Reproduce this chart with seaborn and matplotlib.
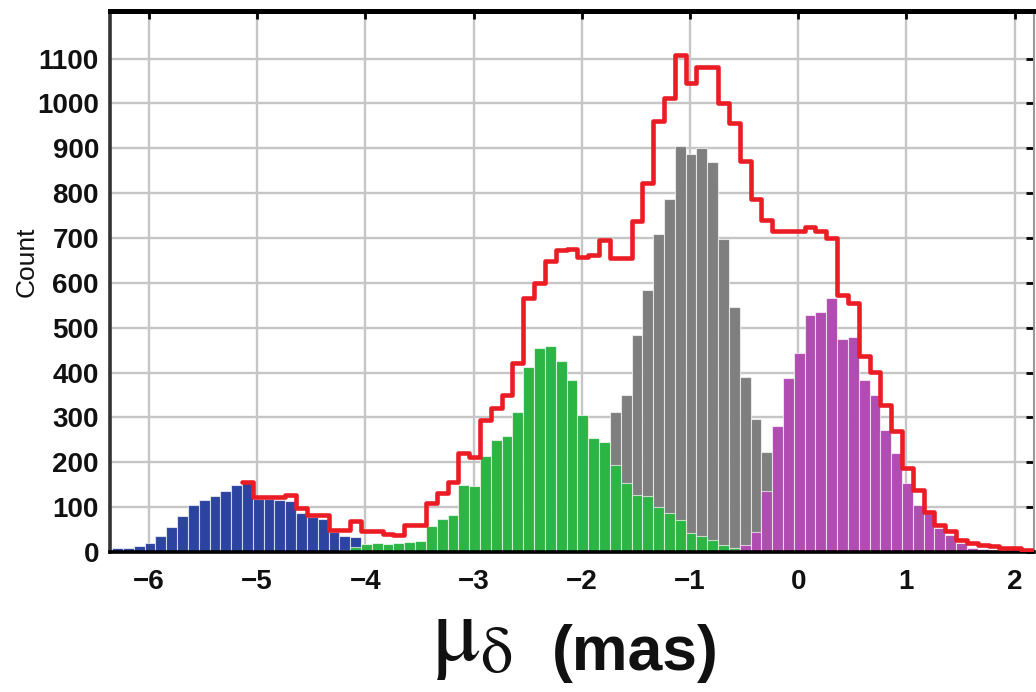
import numpy as np
import pandas as pd
import matplotlib
matplotlib.use("Agg")
import matplotlib.pyplot as plt
import seaborn as sns

# ---------------- data (counts per 0.1 mas bin) ----------------
bin_start = -6.34
bin_width = 0.1
n_bins = 85

x_ticks = [-6, -5, -4, -3, -2, -1, 0, 1, 2]
y_ticks = [0, 100, 200, 300, 400, 500, 600, 700, 800, 900, 1000, 1100]

blue_counts = [8, 8, 14, 20, 35, 55, 80, 105, 115, 125,
               135, 150, 157, 118, 118, 116, 114, 88, 78, 74,
               45, 36, 34, 0, 0, 0, 0, 0, 0, 0,
               0, 0, 0, 0, 0, 0, 0, 0, 0, 0,
               0, 0, 0, 0, 0, 0, 0, 0, 0, 0,
               0, 0, 0, 0, 0, 0, 0, 0, 0, 0,
               0, 0, 0, 0, 0, 0, 0, 0, 0, 0,
               0, 0, 0, 0, 0, 0, 0, 0, 0, 0,
               0, 0, 0, 12, 0]

green_counts = [0, 0, 0, 0, 0, 0, 0, 0, 0, 0,
                0, 0, 0, 0, 0, 0, 0, 0, 0, 0,
                0, 5, 12, 18, 20, 17, 20, 22, 25, 58,
                73, 83, 150, 147, 213, 250, 259, 311, 413, 454,
                459, 425, 384, 306, 254, 246, 194, 153, 127, 124,
                101, 87, 72, 42, 35, 27, 16, 10, 6, 3,
                0, 0, 0, 0, 0, 0, 0, 0, 0, 0,
                0, 0, 0, 0, 0, 0, 0, 0, 0, 0,
                0, 0, 0, 0, 0]

gray_counts = [0, 0, 0, 0, 0, 0, 0, 0, 0, 0,
               0, 0, 0, 0, 0, 0, 0, 0, 0, 0,
               0, 0, 0, 0, 0, 0, 0, 0, 0, 0,
               0, 0, 0, 0, 0, 0, 0, 0, 0, 0,
               5, 12, 25, 60, 120, 200, 311, 350, 484, 584,
               710, 786, 906, 888, 901, 870, 697, 547, 391, 296,
               224, 150, 80, 30, 10, 0, 0, 0, 0, 0,
               0, 0, 0, 0, 0, 0, 0, 0, 0, 0,
               0, 0, 0, 0, 0]

magenta_counts = [0, 0, 0, 0, 0, 0, 0, 0, 0, 0,
                  0, 0, 0, 0, 0, 0, 0, 0, 0, 0,
                  0, 0, 0, 0, 0, 0, 0, 0, 0, 0,
                  0, 0, 0, 0, 0, 0, 0, 0, 0, 0,
                  0, 0, 0, 0, 0, 0, 0, 0, 0, 0,
                  0, 0, 0, 0, 0, 0, 2, 5, 15, 45,
                  135, 280, 387, 443, 529, 534, 566, 474, 480, 384,
                  350, 272, 220, 153, 105, 87, 53, 38, 20, 10,
                  7, 5, 3, 2, 1]

nan = float("nan")
total_counts = [nan, nan, nan, nan, nan, nan, nan, nan, nan, nan,
                nan, nan, 157, 122, 122, 122, 127, 98, 83, 83,
                49, 49, 68, 46, 46, 40, 38, 61, 61, 109,
                131, 155, 220, 211, 295, 321, 350, 421, 566, 599,
                649, 673, 675, 658, 662, 696, 655, 655, 737, 822,
                960, 1011, 1108, 1045, 1081, 1082, 1000, 956, 871, 788,
                740, 716, 715, 715, 725, 716, 700, 573, 555, 436,
                402, 328, 269, 187, 139, 90, 61, 46, 27, 20,
                16, 14, 9, 10, 5]

# ---------------- figure ----------------
edges = bin_start + bin_width * np.arange(n_bins + 1)
centers = edges[:-1] + bin_width / 2

sns.set_theme(style="white")
plt.rcParams["font.family"] = ["Liberation Sans", "DejaVu Sans"]
plt.rcParams["mathtext.fontset"] = "stix"

W, H = 1036, 692
fig = plt.figure(figsize=(W / 100, H / 100), dpi=100)
ax = fig.add_axes([110 / W, 1 - 552 / H, (1034 - 110) / W, (552 - 11) / H])
ax.set_axisbelow(True)
ax.grid(True, color="#c6c6c6", linewidth=1.7)


def draw_bars(counts, color, z):
    v = np.asarray(counts, float)
    m = v > 0
    df = pd.DataFrame({"mu": centers[m], "n": v[m]})
    sns.histplot(data=df, x="mu", weights="n", bins=list(edges), color=color,
                 alpha=1, edgecolor=(1, 1, 1, 0.65), linewidth=0.8, ax=ax,
                 zorder=z)


draw_bars(blue_counts, "#2c43a0", 2)
draw_bars(gray_counts, "#7f7f7f", 2.1)
draw_bars(green_counts, "#2cb444", 2.2)
draw_bars(magenta_counts, "#b04cb2", 2.3)

for p in list(ax.patches):
    if p.get_height() == 0:
        p.remove()

tot = np.asarray(total_counts, float)
mt = ~np.isnan(tot)
idx = np.where(mt)[0]
dft = pd.DataFrame({"mu": centers[mt], "n": tot[mt]})
sns.histplot(data=dft, x="mu", weights="n", bins=list(edges[idx[0]:idx[-1] + 2]),
             element="step", fill=False, color="#ec1c24", linewidth=3.3,
             ax=ax, zorder=5)

ax.set_xlim(-6.36, 2.18)
ax.set_ylim(0, 1206)
ax.set_xticks(x_ticks)
ax.set_yticks(y_ticks)
ax.tick_params(direction="in", length=6, width=2, color="black",
               top=True, right=True, labelsize=20, pad=8)
ax.tick_params(axis="x", pad=12)
for lab in ax.get_xticklabels() + ax.get_yticklabels():
    lab.set_fontweight("bold")
    lab.set_color("#111111")

for side, lw, col in [("top", 3.6, "black"), ("bottom", 2.6, "black"),
                      ("left", 2.6, "#333333"), ("right", 1.5, "#999999")]:
    ax.spines[side].set_visible(True)
    ax.spines[side].set_linewidth(lw)
    ax.spines[side].set_color(col)

ax.set_ylabel("Count", fontsize=19, color="#111111")
ax.yaxis.set_label_coords(-0.077, 0.536)
ax.set_xlabel("")

fig.text(431 / W, 1 - 660 / H, r"$\mathrm{\mu}_{\mathrm{\delta}}$", fontsize=66,
         color="#111111", ha="left", va="baseline")
fig.text(552 / W, 1 - 670 / H, "(mas)", fontsize=45, fontweight="bold",
         color="#111111", ha="left", va="baseline")

fig.savefig("out.png", dpi=100)
